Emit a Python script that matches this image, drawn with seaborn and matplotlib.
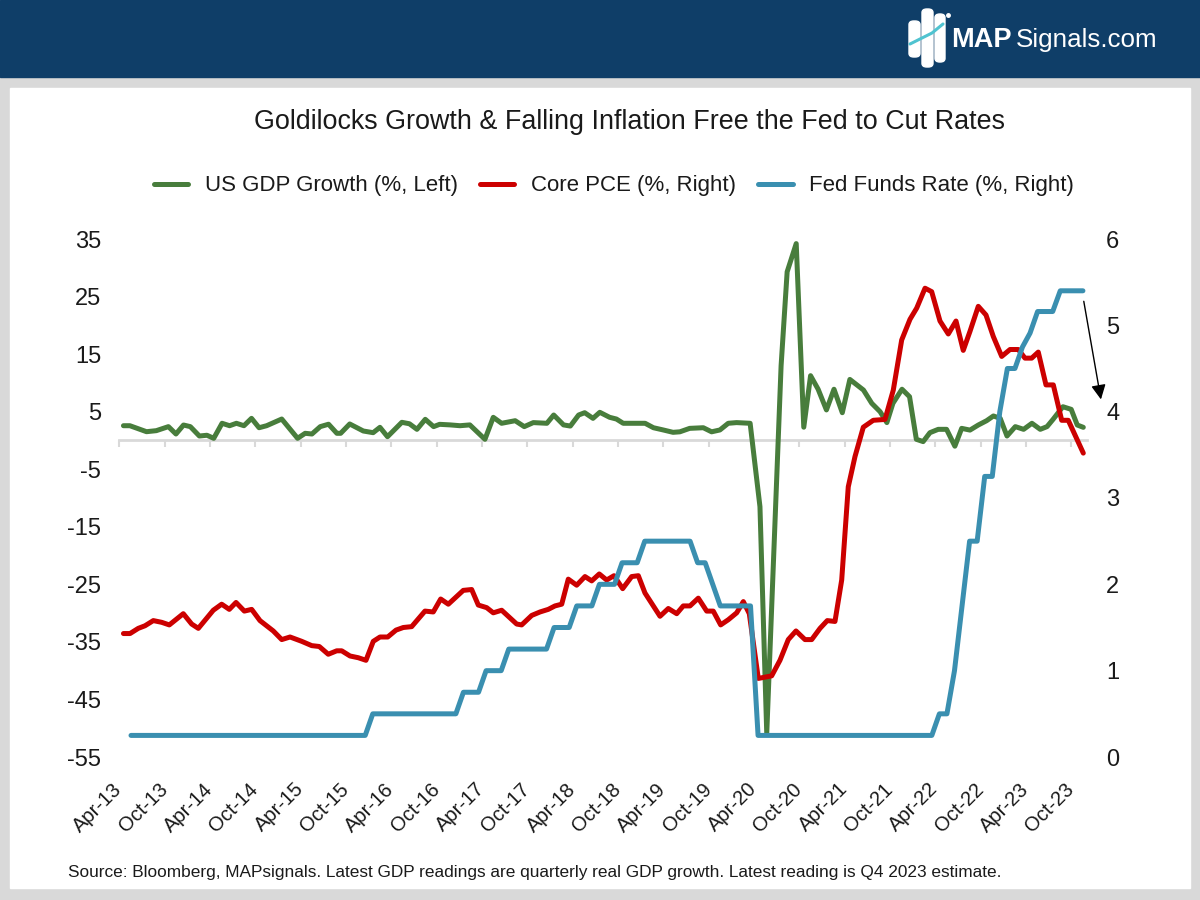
import matplotlib
matplotlib.use("Agg")
import matplotlib.pyplot as plt
from matplotlib.patches import Rectangle, FancyBboxPatch
import seaborn as sns

# ---------------- data (x = months since Apr-2013) ----------------
tick_months = [0, 6, 12, 18, 24, 30, 36, 42, 48, 54, 60, 66, 72, 78, 84, 90, 96, 102, 108, 114, 120, 126]
tick_labels = ["Apr-13", "Oct-13", "Apr-14", "Oct-14", "Apr-15", "Oct-15", "Apr-16", "Oct-16",
               "Apr-17", "Oct-17", "Apr-18", "Oct-18", "Apr-19", "Oct-19", "Apr-20", "Oct-20",
               "Apr-21", "Oct-21", "Apr-22", "Oct-22", "Apr-23", "Oct-23"]

gdp_month = [0.55, 1.4, 3.6, 4.9, 6.5, 7.5, 8.5, 9.4, 10.6, 11.6, 12.5, 13.6, 14.6, 15.5, 16.5, 17.5,
             18.5, 19.5, 21.5, 23.6, 24.6, 25.5, 26.6, 27.7, 28.8, 29.3, 30.5, 32.3, 33.6, 34.5, 35.5,
             37.4, 38.4, 39.4, 40.5, 41.6, 42.4, 43.8, 45.1, 46.4, 48.4, 49.5, 50.6, 52.4, 53.6, 54.8,
             56.6, 57.5, 58.8, 59.7, 60.8, 61.6, 62.7, 63.6, 64.9, 65.8, 66.7, 68.0, 69.6, 70.7, 72.0,
             73.3, 74.2, 75.5, 77.3, 78.4, 79.5, 80.6, 81.7, 83.5, 84.8, 85.7, 87.6, 88.4, 89.6, 90.6,
             91.5, 92.5, 93.6, 94.6, 95.7, 96.7, 98.5, 99.6, 100.7, 101.6, 102.4, 103.6, 104.6, 105.5,
             106.4, 107.3, 108.4, 109.5, 110.6, 111.5, 112.6, 113.7, 114.8, 115.7, 116.6, 117.5, 118.6,
             119.7, 120.8, 121.9, 122.8, 123.6, 124.9, 126.0, 126.8, 127.6]
gdp_value = [2.56, 2.56, 1.52, 1.7, 2.4, 1.12, 2.68, 2.4, 0.77, 0.9, 0.37, 2.98, 2.56, 2.98, 2.56, 3.84,
             2.21, 2.56, 3.72, 0.37, 1.24, 1.12, 2.4, 2.82, 1.24, 1.24, 2.86, 1.64, 1.35, 2.28, 0.65,
             3.15, 2.9, 1.93, 3.67, 2.4, 2.8, 2.7, 2.56, 2.7, 0.2, 4.02, 2.98, 3.43, 2.4, 3.1,
             2.98, 4.42, 2.7, 2.5, 4.42, 4.82, 3.84, 4.89, 4.02, 3.72, 2.98, 2.98, 2.98, 2.21, 1.82,
             1.41, 1.5, 2.1, 2.21, 1.5, 1.82, 2.98, 3.1, 2.98, -11.5, -50.9, 13.0, 29.3, 34.2, 2.3,
             11.25, 8.9, 5.3, 8.9, 4.82, 10.6, 8.76, 6.45, 5.0, 3.1, 6.45, 8.9, 7.6, 0.2,
             -0.2, 1.35, 1.93, 1.93, -1.0, 2.1, 1.8, 2.68, 3.43, 4.25, 3.84, 0.77, 2.4,
             1.93, 2.98, 1.93, 2.4, 3.67, 5.86, 5.4, 2.68, 2.28]

pce_month = [0.55, 1.42, 2.51, 3.40, 4.50, 5.61, 6.62, 8.47, 9.58, 10.46, 12.44, 13.55, 14.56, 15.45,
             16.55, 17.52, 18.62, 20.38, 21.50, 22.60, 24.14, 25.47, 26.47, 27.66, 28.78, 29.44, 30.54,
             31.63, 32.65, 33.62, 34.51, 35.53, 36.63, 37.59, 38.70, 40.46, 41.56, 42.54, 43.55, 45.53,
             46.64, 47.52, 48.63, 49.50, 50.61, 52.60, 53.26, 54.59, 55.69, 56.78, 57.67, 58.56, 59.43,
             60.54, 61.64, 62.53, 63.53, 64.51, 65.48, 66.63, 67.82, 68.70, 69.58, 71.57, 72.67, 73.78,
             74.65, 75.54, 76.64, 77.75, 78.62, 79.60, 80.61, 81.72, 82.60, 83.39, 84.58, 86.35, 87.45,
             88.55, 89.57, 90.76, 91.65, 92.75, 93.71, 94.73, 95.62, 96.49, 97.38, 98.48, 99.80, 101.35,
             102.45, 103.56, 104.66, 105.55, 106.65, 107.53, 108.63, 109.73, 110.75, 111.71, 112.60,
             113.70, 114.72, 115.69, 116.80, 117.90, 119.00, 119.88, 120.77, 121.64, 122.66, 123.63,
             124.74, 125.61, 127.60]
pce_value = [1.43, 1.43, 1.49, 1.52, 1.58, 1.56, 1.53, 1.66, 1.54, 1.49, 1.70, 1.77, 1.71, 1.79,
             1.69, 1.71, 1.58, 1.46, 1.36, 1.39, 1.34, 1.29, 1.28, 1.19, 1.23, 1.23, 1.17,
             1.15, 1.12, 1.34, 1.39, 1.39, 1.47, 1.50, 1.51, 1.69, 1.68, 1.83, 1.77, 1.93,
             1.94, 1.76, 1.73, 1.67, 1.70, 1.54, 1.53, 1.64, 1.68, 1.71, 1.75, 1.77, 2.06,
             1.99, 2.09, 2.04, 2.12, 2.05, 2.10, 1.95, 2.09, 2.10, 1.90, 1.63, 1.72, 1.66,
             1.75, 1.75, 1.84, 1.69, 1.69, 1.53, 1.59, 1.67, 1.80, 1.66, 0.91, 0.94, 1.12,
             1.36, 1.46, 1.36, 1.36, 1.49, 1.58, 1.57, 2.05, 3.13, 3.48, 3.82, 3.90, 3.91,
             4.25, 4.83, 5.07, 5.20, 5.43, 5.39, 5.05, 4.90, 5.05, 4.71, 4.93,
             5.22, 5.12, 4.87, 4.64, 4.72, 4.72, 4.62, 4.62, 4.69, 4.31, 4.31,
             3.90, 3.90, 3.52]

# Fed funds rate, one value per month from May-13 (month 1) to Nov-23 (month 127)
fed_month = list(range(1, 128))
fed_value = ([0.25] * 32 + [0.50] * 12 + [0.75] * 3 + [1.00] * 3 + [1.25] * 6 + [1.50] * 3 +
             [1.75] * 3 + [2.00] * 3 + [2.25] * 3 + [2.50] * 7 + [2.25] * 2 + [2.00] * 1 +
             [1.75] * 5 + [0.25] * 24 + [0.50] * 2 + [1.00] + [1.75] + [2.50] * 2 + [3.25] * 2 +
             [4.00] + [4.50] * 2 + [4.75] + [4.91] + [5.16] * 3 + [5.40] * 4)
MONTH_OFFSET = 0.55  # monthly observations sit just past the start of each month

title = "Goldilocks Growth & Falling Inflation Free the Fed to Cut Rates"
source = ("Source: Bloomberg, MAPsignals. Latest GDP readings are quarterly real GDP growth. "
          "Latest reading is Q4 2023 estimate.")
legend_labels = ["US GDP Growth (%, Left)", "Core PCE (%, Right)", "Fed Funds Rate (%, Right)"]

GREEN = "#487d3c"
RED = "#cc0000"
BLUE = "#3a8fb0"
NAVY = "#0f3e68"
AXIS_GREY = "#d9d9d9"
TEXT = "#1a1a1a"

# ---------------- figure ----------------
sns.set_theme(style="white")
plt.rcParams["font.family"] = ["Liberation Sans", "DejaVu Sans"]
plt.rcParams["axes.unicode_minus"] = False

W, H = 1200, 900
fig = plt.figure(figsize=(12, 9), dpi=100)
fig.patch.set_facecolor("#d9d9d9")


def fx(x):
    return x / W


def fy(y):
    return 1 - y / H


# header band and white panel
fig.add_artist(Rectangle((0, fy(77)), 1, 77 / H, transform=fig.transFigure, color=NAVY, zorder=0))
fig.add_artist(Rectangle((fx(10), fy(888)), 1180 / W, 800 / H, transform=fig.transFigure,
                         color="white", zorder=0))

# logo
for (x0, y0, x1, y1) in [(909, 21, 920, 57), (922, 9, 933, 67), (935, 14, 945, 62)]:
    fig.add_artist(FancyBboxPatch((fx(x0), fy(y1)), (x1 - x0) / W, (y1 - y0) / H,
                                  boxstyle="round,pad=0,rounding_size=0.004",
                                  transform=fig.transFigure, color="white", zorder=1))
fig.add_artist(plt.Line2D([fx(910), fx(920), fx(932), fx(943)], [fy(44), fy(39), fy(33), fy(24)],
                          transform=fig.transFigure, color="#4fc3d0", lw=2.2, zorder=2))
fig.add_artist(plt.Line2D([fx(948)], [fy(15)], transform=fig.transFigure, marker="o", ms=2.5,
                          color="white", zorder=2))
fig.text(fx(951), fy(47), "MAP", color="white", fontsize=19.5, fontweight="bold", va="baseline",
         ha="left")
fig.text(fx(1016), fy(47), "Signals.com", color="white", fontsize=18.7, va="baseline", ha="left")

# title & source
fig.text(fx(630), fy(122), title, fontsize=19.4, ha="center", va="center", color=TEXT)
fig.text(fx(68), fy(873), source, fontsize=12.4, ha="left", va="center", color=TEXT)

# axes
ax = fig.add_axes([fx(119.3), fy(757), (1086.7 - 119.3) / W, (757 - 239) / H])
ax.patch.set_alpha(0)
ax2 = ax.twinx()
ax2.patch.set_alpha(0)

sns.lineplot(x=gdp_month, y=gdp_value, ax=ax, color=GREEN, linewidth=3.6, sort=False,
             estimator=None, solid_joinstyle="round", legend=False)
sns.lineplot(x=pce_month, y=pce_value, ax=ax2, color=RED, linewidth=3.6, sort=False,
             estimator=None, solid_joinstyle="round", legend=False)
sns.lineplot(x=[m + MONTH_OFFSET for m in fed_month], y=fed_value, ax=ax2, color=BLUE,
             linewidth=3.6, sort=False, estimator=None, solid_joinstyle="round", legend=False)

ax.set_xlim(0, 128.05)
ax.set_ylim(-55, 35)
ax2.set_ylim(0, 6)

for a in (ax, ax2):
    for s in a.spines.values():
        s.set_visible(False)
    a.set_xlabel("")
    a.set_ylabel("")

ax.set_yticks(range(-55, 36, 10))
ax.tick_params(axis="y", length=0, pad=13, labelsize=17, labelcolor=TEXT)
ax2.set_yticks(range(0, 7))
ax2.tick_params(axis="y", length=0, pad=14, labelsize=17, labelcolor=TEXT)

ax.set_xticks(tick_months)
ax.set_xticklabels(tick_labels, rotation=45, ha="right", va="center", rotation_mode="anchor")
ax.tick_params(axis="x", length=0, pad=21, labelsize=14.5, labelcolor=TEXT)

# horizontal axis line crossing at zero with its tick marks
zero_axis = ax.secondary_xaxis(55 / 90)
zero_axis.xaxis.set_ticks_position("bottom")
zero_axis.set_xticks(tick_months)
zero_axis.set_xticklabels([])
zero_axis.tick_params(axis="x", which="both", direction="out", length=5, width=1.5,
                      color=AXIS_GREY, bottom=True, top=False)
for side in ("top", "bottom"):
    zero_axis.spines[side].set_color(AXIS_GREY)
    zero_axis.spines[side].set_linewidth(2)

# arrow hinting at rate cuts
ax2.annotate("", xy=(130.0, 4.11), xytext=(127.6, 5.31),
             arrowprops=dict(arrowstyle="-|>", color="black", lw=1.0, mutation_scale=22),
             annotation_clip=False)

# legend
handles = ax.get_lines()[:1] + ax2.get_lines()[:2]
fig.legend(handles, legend_labels, loc="center", bbox_to_anchor=(fx(614), fy(186)), ncol=3,
           frameon=False, fontsize=16, handlelength=1.55, handletextpad=0.75, columnspacing=1.0,
           labelcolor=TEXT)

fig.savefig("out.png", dpi=100, facecolor=fig.get_facecolor())
